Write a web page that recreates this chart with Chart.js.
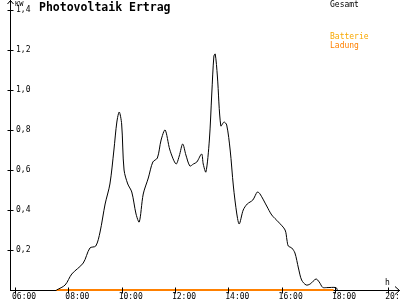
<!DOCTYPE html>
<html>
<head>
<meta charset="utf-8">
<script src="https://cdn.jsdelivr.net/npm/chart.js@4.4.1/dist/chart.umd.min.js"></script>
<style>
html, body { margin: 0; padding: 0; background: #fff; }
</style>
</head>
<body>
<canvas id="js--chart--pv" width="400" height="300"></canvas>
<script>
// Werte (Zeit in Stunden, Leistung in kW)
const gesamtZeit = [7.56, 7.88, 8.13, 8.56, 8.81, 9.03, 9.19, 9.38, 9.56, 9.71, 9.82, 9.91, 10.0, 10.09, 10.23, 10.38,
    10.54, 10.66, 10.81, 11.0, 11.17, 11.34, 11.48, 11.63, 11.81, 12.04, 12.16, 12.29, 12.41, 12.56, 12.69, 12.82,
    13.0, 13.06, 13.16, 13.29, 13.38, 13.46, 13.51, 13.59, 13.72, 13.84, 13.94, 14.07, 14.19, 14.32, 14.41, 14.56,
    14.71, 14.92, 15.09, 15.19, 15.44, 15.63, 15.88, 16.13, 16.2, 16.25, 16.38, 16.5, 16.63, 16.75, 16.92, 17.07,
    17.29, 17.41, 17.54, 17.69, 18.04, 18.09];
const gesamtKW = [0, 0.025, 0.08, 0.135, 0.21, 0.22, 0.29, 0.43, 0.53, 0.70, 0.84, 0.89, 0.83, 0.60, 0.53, 0.49,
    0.38, 0.34, 0.48, 0.56, 0.64, 0.66, 0.75, 0.80, 0.70, 0.63, 0.67, 0.73, 0.675, 0.62, 0.63, 0.64,
    0.68, 0.63, 0.59, 0.75, 0.98, 1.17, 1.18, 1.07, 0.82, 0.84, 0.825, 0.70, 0.52, 0.38, 0.33, 0.40,
    0.43, 0.45, 0.49, 0.48, 0.42, 0.375, 0.34, 0.30, 0.25, 0.22, 0.21, 0.185, 0.11, 0.05, 0.025, 0.03,
    0.055, 0.04, 0.013, 0.012, 0.012, 0];
const ladungZeit = [7.56, 17.95];
const ladungKW = [0, 0];

const xTicks = [6, 8, 10, 12, 14, 16, 18, 20];
const yTicks = [0.2, 0.4, 0.6, 0.8, 1.0, 1.2, 1.4];

const titel = 'Photovoltaik Ertrag';
const legendeGesamt = 'Gesamt';
const legendeBatterie = 'Batterie';
const legendeLadung = 'Ladung';

const mono = '"DejaVu Sans Mono", monospace';

function toPoints(xs, ys) {
    return xs.map((v, i) => ({x: v, y: ys[i]}));
}

// pfeile, tickstriche, titel und legende
const pvOverlay = {
    id: 'pvOverlay',
    afterDraw(chart) {
        const ctx = chart.ctx;
        const x = chart.scales.x;
        const y = chart.scales.y;
        const ax = chart.chartArea.left + 0.5;
        const ay = chart.chartArea.bottom + 0.5;

        ctx.save();
        ctx.strokeStyle = '#000';
        ctx.lineWidth = 1;
        ctx.beginPath();
        // y-achse nach oben verlaengern + pfeil
        ctx.moveTo(ax, chart.chartArea.top);
        ctx.lineTo(ax, 0);
        ctx.moveTo(ax - 3, 4);
        ctx.lineTo(ax, 0.5);
        ctx.lineTo(ax + 3, 4);
        // x pfeil
        ctx.moveTo(395, ay - 4);
        ctx.lineTo(399.5, ay);
        ctx.lineTo(395, ay + 4);
        // tickstriche
        yTicks.forEach(v => {
            const py = Math.round(y.getPixelForValue(v)) + 0.5;
            ctx.moveTo(ax - 3, py);
            ctx.lineTo(ax + 3, py);
        });
        xTicks.forEach(v => {
            const px = Math.round(x.getPixelForValue(v)) + 0.5;
            ctx.moveTo(px, ay - 3);
            ctx.lineTo(px, ay + 3);
        });
        ctx.stroke();

        ctx.fillStyle = '#000';
        ctx.textBaseline = 'alphabetic';
        ctx.textAlign = 'left';
        ctx.font = 'bold 11.5px ' + mono;
        ctx.fillText(titel, 39, 11);

        ctx.font = '7px ' + mono;
        ctx.fillText('KW', 15, 6);

        ctx.font = '8px ' + mono;
        ctx.fillText('h', 385, 285);
        ctx.fillText(legendeGesamt, 330, 7);
        ctx.fillStyle = '#f8a800';
        ctx.fillText(legendeBatterie, 330, 39);
        ctx.fillStyle = '#ff8000';
        ctx.fillText(legendeLadung, 330, 48);
        ctx.restore();
    }
};

const ctx = document.getElementById('js--chart--pv');

new Chart(ctx, {
    type: 'line',
    data: {
        datasets: [{
            label: legendeGesamt,
            data: toPoints(gesamtZeit, gesamtKW),
            borderColor: '#000',
            borderWidth: 1,
            pointRadius: 0,
            tension: 0.3
        }, {
            label: legendeLadung,
            data: toPoints(ladungZeit, ladungKW),
            borderColor: '#ff8000',
            borderWidth: 2,
            pointRadius: 0,
            clip: false
        }]
    },
    options: {
        responsive: false,
        devicePixelRatio: 1,
        animation: false,
        layout: {
            padding: {top: 10, left: 0, right: 0, bottom: 0}
        },
        plugins: {
            legend: {display: false},
            tooltip: {enabled: false}
        },
        scales: {
            x: {
                type: 'linear',
                min: 5.8125,
                max: 20.44,
                grid: {drawOnChartArea: false, drawTicks: false},
                border: {display: true, color: '#000', width: 1},
                afterBuildTicks: s => { s.ticks = xTicks.map(v => ({value: v})); },
                afterFit: s => {
                    s.height = 10;
                    s.paddingLeft = 0;
                    s.paddingRight = 0;
                },
                ticks: {
                    align: 'start',
                    labelOffset: -3,
                    padding: 2,
                    maxRotation: 0,
                    autoSkip: false,
                    color: '#000',
                    font: {family: mono, size: 8},
                    callback: v => String(v).padStart(2, '0') + ':00'
                }
            },
            y: {
                min: 0,
                max: 1.4,
                grid: {drawOnChartArea: false, drawTicks: false},
                border: {display: true, color: '#000', width: 1},
                afterBuildTicks: s => { s.ticks = yTicks.map(v => ({value: v})); },
                afterFit: s => {
                    s.width = 10;
                    s.paddingTop = 0;
                    s.paddingBottom = 0;
                },
                ticks: {
                    mirror: true,
                    padding: 6,
                    color: '#000',
                    font: {family: mono, size: 8},
                    callback: v => v.toFixed(1).replace('.', ',')
                }
            }
        }
    },
    plugins: [pvOverlay]
});
</script>
</body>
</html>
